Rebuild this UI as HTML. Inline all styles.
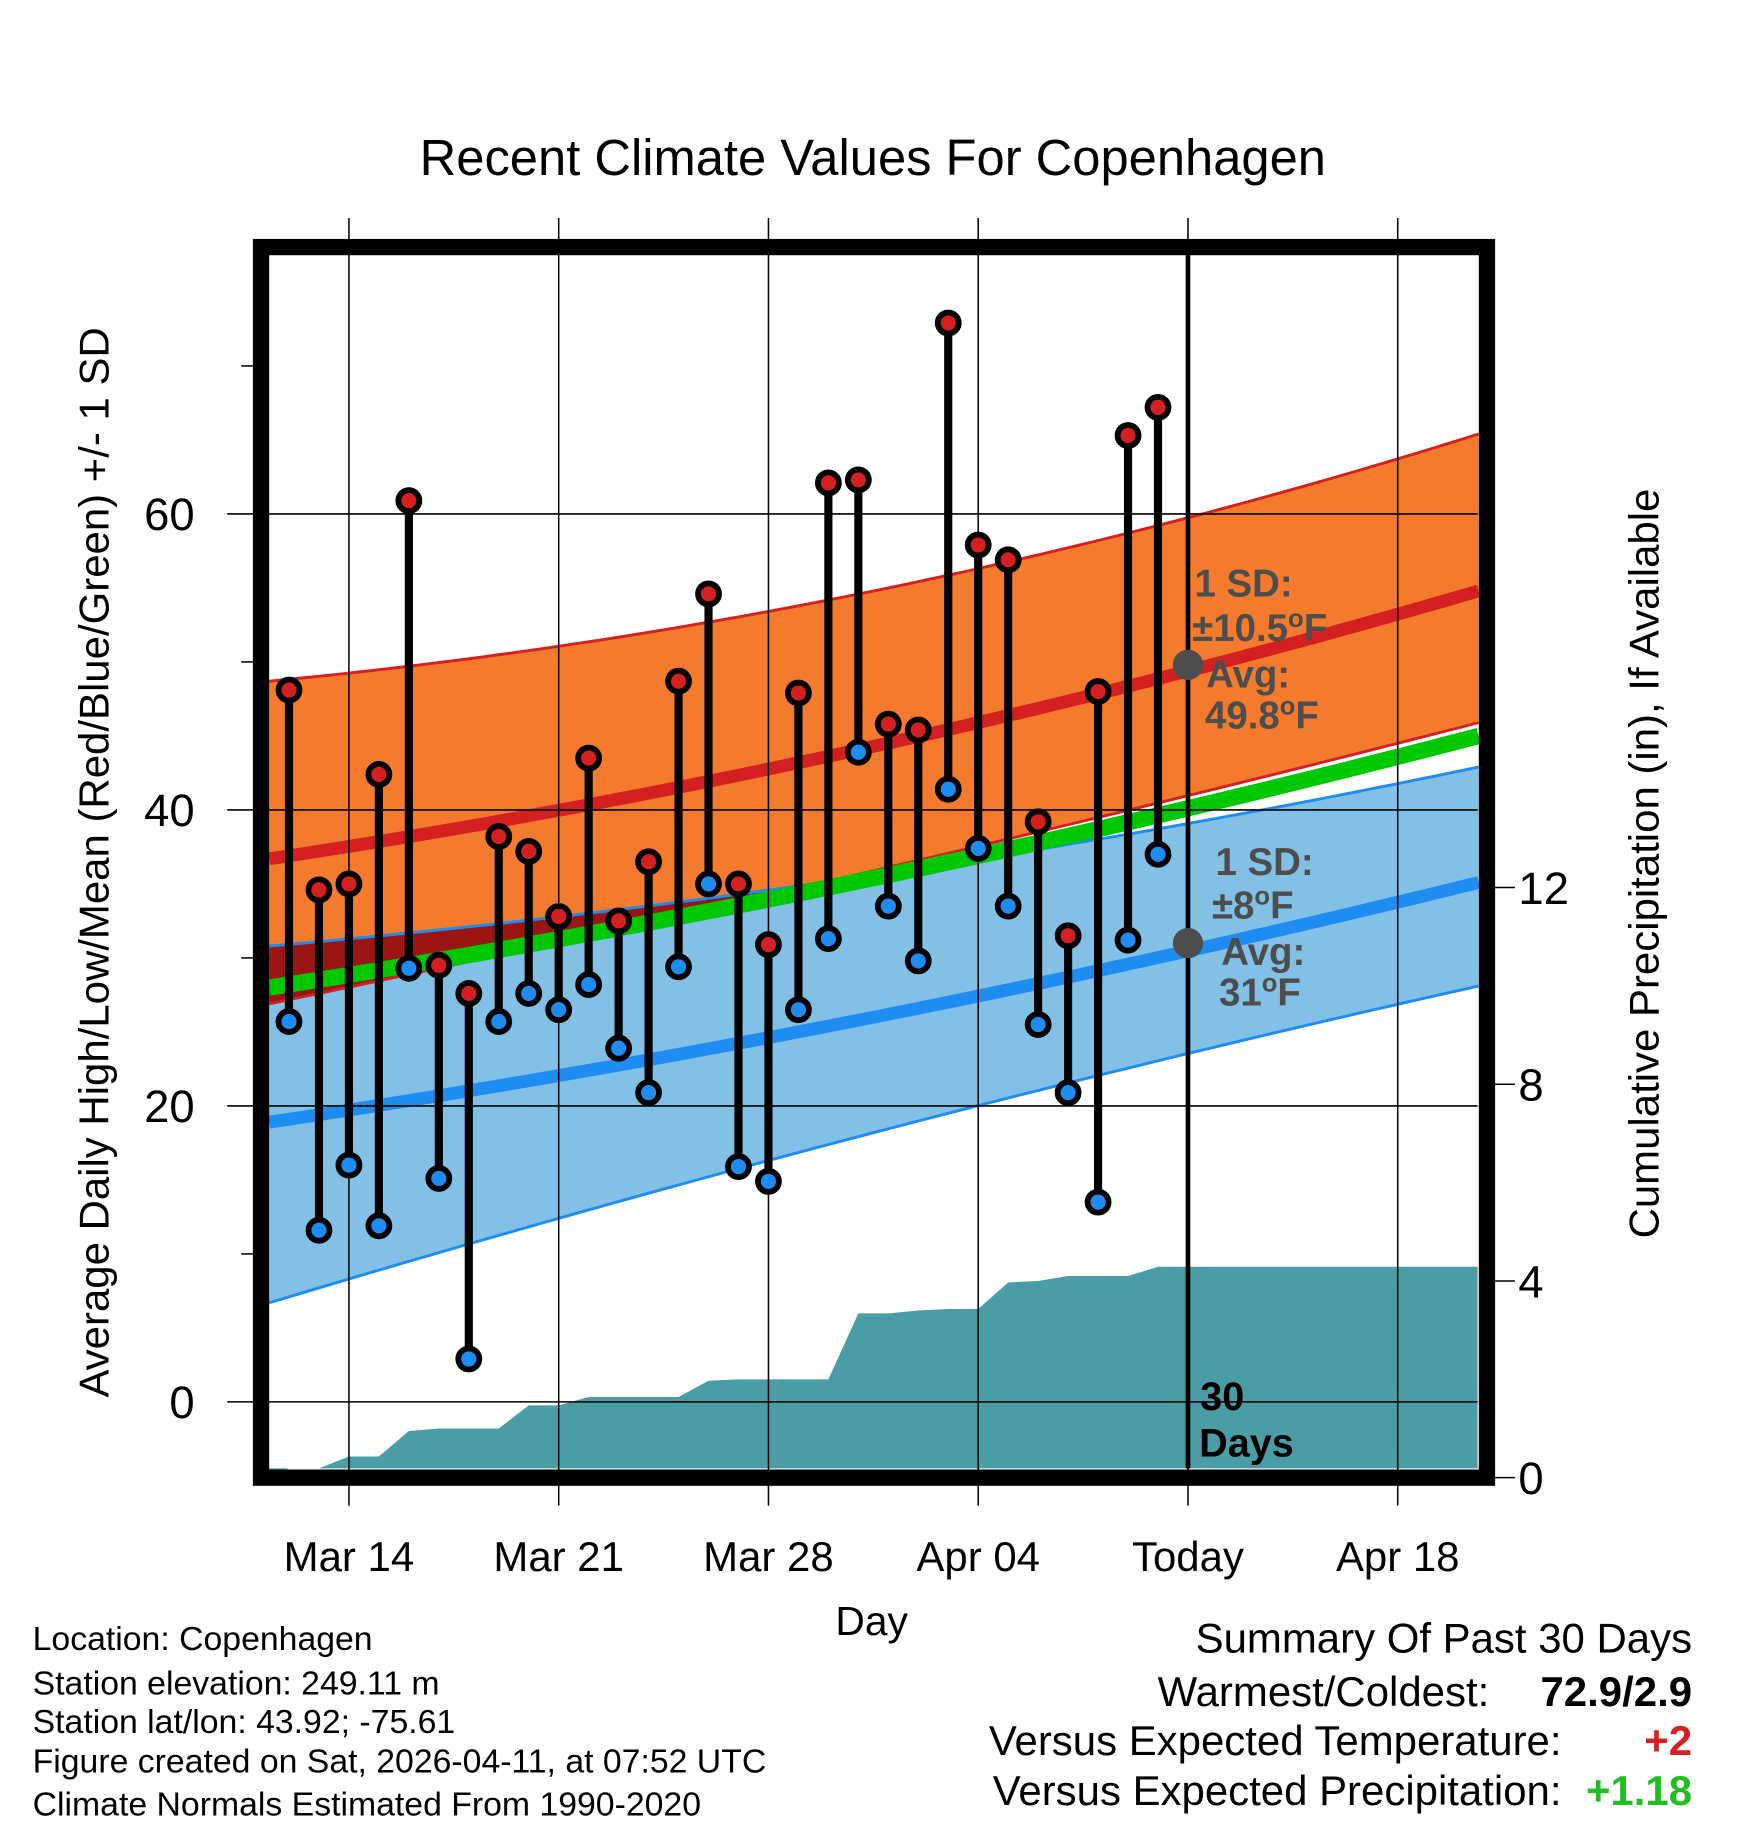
<!DOCTYPE html>
<html><head><meta charset="utf-8"><style>
html,body{margin:0;padding:0;background:#fff}
svg{display:block}
text{font-family:"Liberation Sans",Arial,sans-serif}
</style></head><body>
<svg id="chart" width="1748" height="1828" viewBox="0 0 1500 1568.6" xmlns="http://www.w3.org/2000/svg">
<g id="bands"></g>
<g id="precip"></g>
<g id="grid"></g>
<g id="marks"></g>
<g id="axes"></g>
<text x="749" y="150" font-size="43.5" text-anchor="middle">Recent Climate Values For Copenhagen</text>
<text transform="translate(93,740) rotate(-90)" font-size="36" text-anchor="middle">Average Daily High/Low/Mean (Red/Blue/Green) +/- 1 SD</text>
<text transform="translate(1423,741) rotate(-90)" font-size="36" text-anchor="middle">Cumulative Precipitation (in), If Available</text>
<text x="748" y="1403" font-size="35" text-anchor="middle">Day</text>
<g font-size="29">
<text x="28" y="1416">Location: Copenhagen</text>
<text x="28" y="1454">Station elevation: 249.11 m</text>
<text x="28" y="1487">Station lat/lon: 43.92; -75.61</text>
<text x="28" y="1521">Figure created on Sat, 2026-04-11, at 07:52 UTC</text>
<text x="28" y="1558">Climate Normals Estimated From 1990-2020</text>
</g>
<g font-size="36">
<text x="1452" y="1418" text-anchor="end">Summary Of Past 30 Days</text>
<text x="1278" y="1464" text-anchor="end">Warmest/Coldest:</text>
<text x="1452" y="1464" text-anchor="end" font-weight="bold">72.9/2.9</text>
<text x="1340" y="1506" text-anchor="end">Versus Expected Temperature:</text>
<text x="1452" y="1506" text-anchor="end" font-weight="bold" fill="#d42020">+2</text>
<text x="1340" y="1549" text-anchor="end">Versus Expected Precipitation:</text>
<text x="1452" y="1549" text-anchor="end" font-weight="bold" fill="#1fbf1f">+1.18</text>
</g>
</svg>
<script>
// ---- data ----
const dayLabels = ["Mar 12","Mar 13","Mar 14","Mar 15","Mar 16","Mar 17","Mar 18","Mar 19","Mar 20","Mar 21","Mar 22","Mar 23","Mar 24","Mar 25","Mar 26","Mar 27","Mar 28","Mar 29","Mar 30","Mar 31","Apr 01","Apr 02","Apr 03","Apr 04","Apr 05","Apr 06","Apr 07","Apr 08","Apr 09","Apr 10"];
const highs = [48.1,34.6,35.0,42.4,60.9,29.5,27.6,38.2,37.2,32.8,43.5,32.5,36.5,48.7,54.6,35.0,30.9,47.9,62.1,62.3,45.8,45.4,72.9,57.9,56.9,39.2,31.5,48.0,65.3,67.2];
const lows = [25.7,11.6,16.0,11.9,29.3,15.1,2.9,25.7,27.6,26.5,28.2,23.9,20.9,29.4,35.0,15.9,14.9,26.5,31.3,43.9,33.5,29.8,41.4,37.4,33.5,25.5,20.9,13.5,31.2,37.0];
const precip = [0,0.1,0.43,0.43,0.95,1.0,1.0,1.0,1.47,1.47,1.64,1.64,1.64,1.64,1.97,2.0,2.0,2.0,2.0,3.34,3.34,3.4,3.43,3.43,3.97,4.0,4.1,4.1,4.1,4.29];
// normals sampled at plot-left, middle, plot-right (day offsets from Mar 12)
const normDays = [-0.66, 19.52, 39.7];
const normHighTop = [48.7, 54.8, 65.4];
const normHigh = [36.7, 44.3, 54.8];
const normHighBot = [26.9, 35.9, 45.9];
const normMean = [28.0, 35.4, 45.0];
const normLowTop = [30.8, 35.6, 42.9];
const normLow = [18.9, 26.0, 35.1];
const normLowBot = [6.7, 18.2, 28.1];
const tickTemps = [0,20,40,60];
const minorTemps = [10,30,50,70];
const precipTicks = [0,4,8,12];
const xTickDays = [2,9,16,23,30,37];
const xTickLabels = ["Mar 14","Mar 21","Mar 28","Apr 04","Today","Apr 18"];
const todayDay = 30;
const todayHighAvg = 49.8, todayLowAvg = 31;

// ---- scales ----
const L=231,R=1268,T=219,B=1260;
const X=d=>248+d*25.714;
const Y=t=>1203-t*12.7;
const P=p=>1268-p*42.2;
const NS="http://www.w3.org/2000/svg";
function mk(tag,parent,attrs){const e=document.createElementNS(NS,tag);for(const k in attrs)e.setAttribute(k,attrs[k]);parent.appendChild(e);return e;}
function interp(arr,d){
  const [a,b,c]=normDays,[ya,yb,yc]=arr;
  return ya*(d-b)*(d-c)/((a-b)*(a-c))+yb*(d-a)*(d-c)/((b-a)*(b-c))+yc*(d-a)*(d-b)/((c-a)*(c-b));
}
const samples=[];for(let i=0;i<=80;i++)samples.push(normDays[0]+(normDays[2]-normDays[0])*i/80);
function bandPts(top,bot){let s=samples.map(d=>X(d)+','+Y(top(d))).join(' ');s+=' '+samples.slice().reverse().map(d=>X(d)+','+Y(bot(d))).join(' ');return s;}
function linePts(f){return samples.map(d=>X(d)+','+Y(f(d))).join(' ');}

const bands=document.getElementById('bands');
let e;
e=mk('polygon',bands,{points:bandPts(d=>interp(normLowTop,d),d=>interp(normLowBot,d)),fill:'#82c0e6'});

e=mk('polygon',bands,{points:bandPts(d=>interp(normHighTop,d),d=>interp(normHighBot,d)),fill:'#f47b2e'});

e=mk('polygon',bands,{points:bandPts(d=>Math.max(interp(normLowTop,d),interp(normHighBot,d)),d=>interp(normHighBot,d)),fill:'#9c1515'});

[[normHighTop,'#d42020',2.5,'high-sd-top'],[normHighBot,'#d42020',2.5,'high-sd-bottom'],[normLowTop,'#1e8cf0',2.5,'low-sd-top'],[normLowBot,'#1e8cf0',2.5,'low-sd-bottom'],[normHigh,'#d42020',11,'avg-high-line'],[normLow,'#1e8cf0',11,'avg-low-line'],[normMean,'#00c800',14,'avg-mean-line']].forEach(([arr,c,w,n])=>{
  const l=mk('polyline',bands,{points:linePts(d=>interp(arr,d)),fill:'none',stroke:c,'stroke-width':w});
  
});

// precip
const pg=document.getElementById('precip');
let pts=`${L},${B} ${L},${P(0)}`;
precip.forEach((p,i)=>{pts+=` ${X(i)},${Math.min(P(p),B)}`;});
pts+=` ${R},${P(precip[precip.length-1])} ${R},${B}`;
e=mk('polygon',pg,{points:pts,fill:'#4a9ca5'});


// grid
const g=document.getElementById('grid');
xTickDays.forEach(d=>{const l=mk('line',g,{x1:X(d),x2:X(d),y1:187,y2:1292,stroke:'#000','stroke-width':1.3});});
tickTemps.forEach(t=>{const l=mk('line',g,{x1:195,x2:R,y1:Y(t),y2:Y(t),stroke:'#000','stroke-width':1.3});});
minorTemps.forEach(t=>{const l=mk('line',g,{x1:207,x2:217,y1:Y(t),y2:Y(t),stroke:'#000','stroke-width':1.3});});
precipTicks.forEach(p=>{const l=mk('line',g,{x1:1283,x2:1300,y1:P(p),y2:P(p),stroke:'#000','stroke-width':1.3});});

// today line
const m=document.getElementById('marks');
e=mk('line',m,{x1:X(todayDay),x2:X(todayDay),y1:T,y2:B,stroke:'#000','stroke-width':4});


// daily marks
highs.forEach((h,i)=>{
  const l=mk('line',m,{x1:X(i),x2:X(i),y1:Y(h),y2:Y(lows[i]),stroke:'#000','stroke-width':7});
  
});
highs.forEach((h,i)=>{
  const c=mk('circle',m,{cx:X(i),cy:Y(h),r:9,fill:'#d42020',stroke:'#000','stroke-width':5});
  
  const c2=mk('circle',m,{cx:X(i),cy:Y(lows[i]),r:9,fill:'#1e8cf0',stroke:'#000','stroke-width':5});
  
});
e=mk('circle',m,{cx:X(todayDay),cy:Y(todayHighAvg),r:13,fill:'#4d4d4d'});

e=mk('circle',m,{cx:X(todayDay),cy:Y(todayLowAvg),r:13,fill:'#4d4d4d'});

function txt(parent,x,y,s,attrs){const t=mk('text',parent,Object.assign({x:x,y:y},attrs||{}));t.innerHTML=s;return t;}
const ann={fill:'#4d4d4d','font-size':33,'font-weight':'bold'};
const deg='<tspan font-size="22" dy="-12">o</tspan><tspan dy="12">F</tspan>';
e=txt(m,1025,512,'1 SD:',ann);
e=txt(m,1023,550,'±10.5'+deg,ann);
e=txt(m,1035,590,'Avg:',ann);
e=txt(m,1034,625,todayHighAvg+deg,ann);
e=txt(m,1043,751,'1 SD:',ann);
e=txt(m,1040,788,'±8'+deg,ann);
e=txt(m,1048,828,'Avg:',ann);
e=txt(m,1046,863,todayLowAvg+deg,ann);
e=txt(m,1030,1210,'30',{'font-size':34,'font-weight':'bold'});
e=txt(m,1029,1250,'Days',{'font-size':34,'font-weight':'bold'});

// axes
const a=document.getElementById('axes');
e=mk('rect',a,{x:224,y:212,width:1052,height:1056,fill:'none',stroke:'#000','stroke-width':14});

tickTemps.forEach(t=>{e=txt(a,167,Y(t)+14,String(t),{'font-size':39,'text-anchor':'end'});});
precipTicks.forEach(p=>{e=txt(a,1303,P(p)+14,String(p),{'font-size':39});});
xTickDays.forEach((d,i)=>{e=txt(a,X(d),1348,xTickLabels[i],{'font-size':36,'text-anchor':'middle'});});
</script>
</body></html>
